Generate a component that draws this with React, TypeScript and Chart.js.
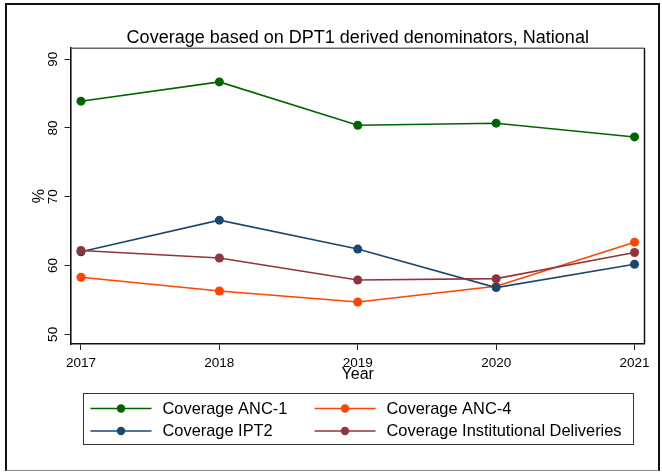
import React, { useEffect, useRef } from "react";
import { Chart, registerables } from "chart.js";

Chart.register(...registerables);

// ---- data ----
const years = [2017, 2018, 2019, 2020, 2021];
const anc1 = [83.9, 86.7, 80.4, 80.7, 78.7];
const anc4 = [58.3, 56.3, 54.7, 57.0, 63.4];
const ipt2 = [62.0, 66.6, 62.4, 56.8, 60.2];
const instDeliveries = [62.2, 61.1, 57.9, 58.1, 61.9];
const seriesLabels = [
  "Coverage ANC-1",
  "Coverage ANC-4",
  "Coverage IPT2",
  "Coverage Institutional Deliveries",
];
const seriesColors = ["#006400", "#ff4500", "#1a476f", "#90353b"];
const yTicks = [50, 60, 70, 80, 90];
const titleText = "Coverage based on DPT1 derived denominators, National";
const xTitle = "Year";
const yTitle = "%";

const FONT = '"Liberation Sans", Arial, Helvetica, sans-serif';

const legendPlugin = {
  id: "stataLegend",
  afterDraw(chart: any) {
    const { ctx, chartArea } = chart;
    const cx = (chartArea.left + chartArea.right) / 2;
    const boxW = 550;
    const boxH = 51;
    const left = Math.round(cx - boxW / 2) + 0.5;
    const top = Math.round(chartArea.bottom + 49) + 0.5;
    ctx.save();
    ctx.strokeStyle = "#333";
    ctx.lineWidth = 1;
    ctx.strokeRect(left, top, boxW, boxH);
    const rows = [top + 15, top + 37.5];
    const cols = [left + 7, left + 231];
    ctx.font = `16.4px ${FONT}`;
    ctx.textBaseline = "middle";
    ctx.textAlign = "left";
    chart.data.datasets.forEach((ds: any, i: number) => {
      const x0 = cols[i % 2];
      const y = rows[Math.floor(i / 2)];
      ctx.strokeStyle = ds.borderColor;
      ctx.lineWidth = 1.6;
      ctx.beginPath();
      ctx.moveTo(x0, y);
      ctx.lineTo(x0 + 61, y);
      ctx.stroke();
      ctx.fillStyle = ds.borderColor;
      ctx.beginPath();
      ctx.arc(x0 + 30.5, y, 4.2, 0, Math.PI * 2);
      ctx.fill();
      ctx.fillStyle = "#000";
      ctx.fillText(ds.label, x0 + 72, y + 0.5);
    });
    ctx.restore();
  },
};

const frameLinesPlugin = {
  id: "plotFrame",
  afterDraw(chart: any) {
    const { ctx, chartArea } = chart;
    ctx.save();
    ctx.lineWidth = 1.5;
    ctx.strokeStyle = "#666";
    ctx.beginPath();
    ctx.moveTo(chartArea.left, chartArea.top);
    ctx.lineTo(chartArea.right, chartArea.top);
    ctx.stroke();
    ctx.strokeStyle = "#111";
    ctx.beginPath();
    ctx.moveTo(chartArea.right, chartArea.top);
    ctx.lineTo(chartArea.right, chartArea.bottom);
    ctx.stroke();
    ctx.restore();
  },
};

export default function App() {
  const canvasRef = useRef<HTMLCanvasElement | null>(null);

  useEffect(() => {
    const canvas = canvasRef.current;
    if (!canvas) return;
    const seriesValues = [anc1, anc4, ipt2, instDeliveries];
    const chart = new Chart(canvas, {
      type: "line",
      data: {
        datasets: seriesValues.map((vals, i) => ({
          label: seriesLabels[i],
          data: years.map((yr, j) => ({ x: yr, y: vals[j] })),
          borderColor: seriesColors[i],
          backgroundColor: seriesColors[i],
          pointBackgroundColor: seriesColors[i],
          pointBorderColor: seriesColors[i],
          pointBorderWidth: 0,
          pointRadius: 4.5,
          borderWidth: 1.6,
          tension: 0,
          order: seriesValues.length - i,
        })),
      },
      options: {
        animation: false,
        responsive: false,
        devicePixelRatio: 1,
        layout: { padding: { left: 29, right: 17.5, top: 0, bottom: 88 } },
        plugins: {
          legend: { display: false },
          tooltip: { enabled: false },
          title: {
            display: true,
            text: titleText,
            fullSize: false,
            color: "#000",
            font: { family: FONT, size: 18, weight: "normal", lineHeight: 1.15 },
            padding: { top: 27.5, bottom: 0 },
          },
        },
        scales: {
          x: {
            type: "linear",
            min: 2016.928,
            max: 2021.072,
            afterBuildTicks: (scale: any) => {
              scale.ticks = years.map((v) => ({ value: v }));
            },
            afterFit: (scale: any) => {
              scale.height = 40;
            },
            grid: {
              display: true,
              drawOnChartArea: false,
              drawTicks: true,
              tickLength: 6,
              color: "#222",
              lineWidth: 1,
            },
            border: { display: true, color: "#111", width: 1.6 },
            ticks: {
              color: "#000",
              font: { family: FONT, size: 13.5 },
              padding: 5.5,
              maxRotation: 0,
              minRotation: 0,
              autoSkip: false,
              callback: (v: any) => String(v),
            },
            title: {
              display: true,
              text: xTitle,
              color: "#000",
              font: { family: FONT, size: 16 },
              padding: { top: 0, bottom: 0 },
            },
          },
          y: {
            type: "linear",
            min: 48.6,
            max: 91.6,
            afterBuildTicks: (scale: any) => {
              scale.ticks = yTicks.map((v) => ({ value: v }));
            },
            afterFit: (scale: any) => {
              scale.width = 42;
            },
            grid: {
              display: true,
              drawOnChartArea: false,
              drawTicks: true,
              tickLength: 6.5,
              color: "#222",
              lineWidth: 1,
            },
            border: { display: true, color: "#111", width: 1.6 },
            ticks: {
              color: "#000",
              font: { family: FONT, size: 13.5 },
              padding: 4,
              minRotation: 90,
              maxRotation: 90,
              crossAlign: "center",
              autoSkip: false,
              callback: (v: any) => String(v),
            },
            title: {
              display: true,
              text: yTitle,
              color: "#000",
              font: { family: FONT, size: 16 },
              padding: { top: 1, bottom: 0 },
            },
          },
        },
      },
      plugins: [frameLinesPlugin, legendPlugin],
    } as any);
    return () => chart.destroy();
  }, []);

  return (
    <div
      style={{
        position: "fixed",
        left: 0,
        top: 0,
        width: 662,
        height: 472,
        background: "#fff",
        overflow: "hidden",
      }}
    >
      <canvas
        ref={canvasRef}
        width={662}
        height={472}
        style={{ display: "block", width: 662, height: 472 }}
      />
      <div
        style={{
          position: "absolute",
          left: 5,
          top: 3,
          width: 655,
          height: 468,
          boxSizing: "border-box",
          borderTop: "2px solid #111",
          borderLeft: "2px solid #111",
          borderRight: "2px solid #111",
          borderBottom: "1px solid #888",
          pointerEvents: "none",
        }}
      />
    </div>
  );
}
